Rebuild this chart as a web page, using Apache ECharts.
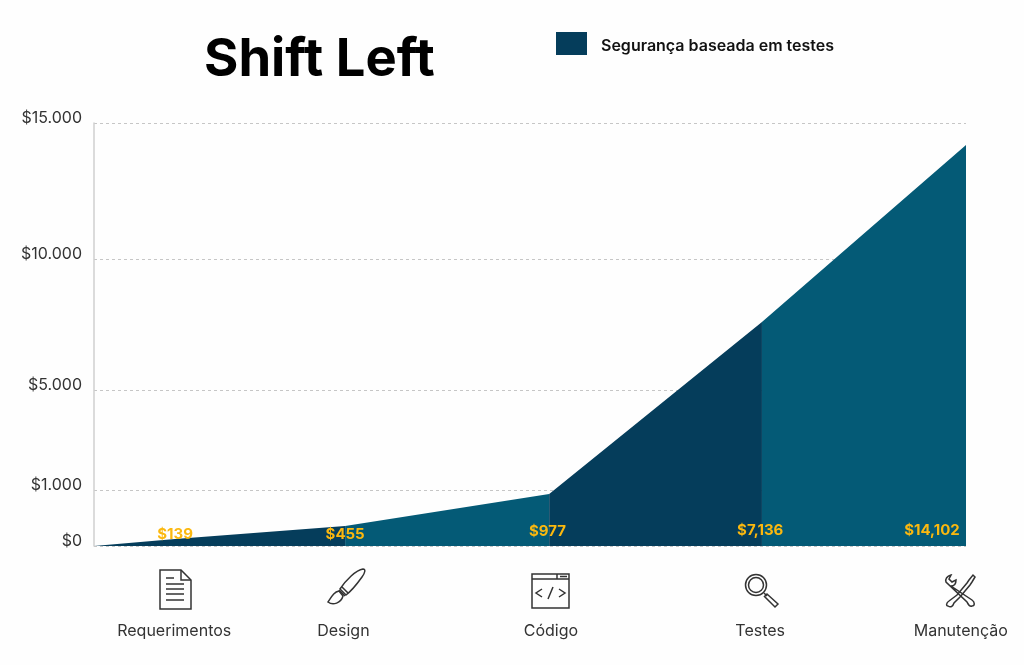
<!DOCTYPE html>
<html><head><meta charset="utf-8">
<style>html,body{margin:0;padding:0;background:#fefefe}#c{width:1024px;height:665px}</style>
<script src="https://cdn.jsdelivr.net/npm/echarts@6/dist/echarts.min.js"></script></head>
<body><div id="c"></div>
<script>
const titleText = "Shift Left";
const seriesName = "Segurança baseada em testes";
const categories = ["Requerimentos","Design","Código","Testes","Manutenção"];
const categoryX = [9.2,28.6,52.4,76.4,99.4];
const tickValues = [0,1000,5000,10000,15000];
const tickLabels = ["$0","$1.000","$5.000","$10.000","$15.000"];
const tickScale = [0,13.24,36.88,67.85,100];
const darkX = [0,9.3,28.8,null,52.2,76.6];
const darkValues = [0,125,357,null,928,7595];
const lightX = [28.8,52.2,null,76.6,100];
const lightValues = [357,928,null,7595,14190];
const costLabels = ["$139","$455","$977","$7,136","$14,102"];
const costLabelX = [9.3,28.8,52,76.4,96.1];
const costLabelLift = [-4,-4,-7,-8,-8];

function warp(v){
  for(let i=1;i<tickValues.length;i++){
    if(v<=tickValues[i]){
      const t=(v-tickValues[i-1])/(tickValues[i]-tickValues[i-1]);
      return tickScale[i-1]+t*(tickScale[i]-tickScale[i-1]);
    }
  }
  return 100;
}
const pts=(xs,vs)=>xs.map((x,i)=>x===null?['-','-']:[x,warp(vs[i])]);
const FONT="Inter";
const chart=echarts.init(document.getElementById('c'));
const ic={stroke:'#333',lineWidth:1.5,fill:'none'};
let shapeCount=0;
function p(d){
  const name='iconPath'+(shapeCount++);
  echarts.graphic.registerShape(name,echarts.graphic.extendPath(d,{}));
  return {type:name,style:Object.assign({},ic),silent:true};
}
chart.setOption({
  animation:false,
  backgroundColor:'#fefefe',
  textStyle:{fontFamily:FONT},
  title:{text:titleText,left:199,top:29,textStyle:{fontFamily:FONT,fontWeight:'bold',fontSize:52.5,color:'#000'}},
  legend:{data:[seriesName],left:551,top:27,itemWidth:31,itemHeight:23,icon:'rect',
    formatter:n=>'{a|'+n+'}',
    textStyle:{rich:{a:{fontFamily:FONT,fontWeight:600,fontSize:16,color:'#111',padding:[6,0,0,9]}}}},
  grid:{left:94,right:58,top:123,bottom:119},
  xAxis:{type:'value',min:0,max:100,
    axisLine:{show:false},axisTick:{show:false},splitLine:{show:false},
    axisLabel:{customValues:categoryX,margin:77,fontSize:16,color:'#333',fontFamily:FONT,
      formatter:v=>categories[categoryX.indexOf(v)]}},
  yAxis:{type:'value',min:0,max:100,
    axisLine:{show:true,onZero:false,lineStyle:{color:'#cfcfcf',width:1.5}},
    axisTick:{show:false,customValues:tickScale},
    splitLine:{show:true,lineStyle:{color:'#c6c6c6',type:[3,3],width:1}},
    axisLabel:{customValues:tickScale,margin:12,fontSize:16,color:'#333',fontFamily:FONT,
      verticalAlign:'bottom',lineHeight:10,
      formatter:v=>tickLabels[tickScale.indexOf(v)]}},
  series:[
    {name:seriesName,type:'line',data:pts(darkX,darkValues),symbol:'none',connectNulls:false,
      lineStyle:{width:0},areaStyle:{color:'#053d5b',opacity:1},itemStyle:{color:'#053d5b'},z:3},
    {name:'base',type:'line',data:pts(lightX,lightValues),symbol:'none',connectNulls:false,
      lineStyle:{width:0},areaStyle:{color:'#045a76',opacity:1},itemStyle:{color:'#045a76'},z:2},
    {name:'custos',type:'scatter',symbolSize:0,z:5,itemStyle:{opacity:1},
      data:costLabelX.map((x,i)=>({value:[x,0],label:{formatter:costLabels[i],offset:[0,costLabelLift[i]]}})),
      label:{show:true,position:'top',distance:0,opacity:1,fontFamily:FONT,fontWeight:'bold',fontSize:15,color:'#fbb80f'}}
  ],
  graphic:[
    {type:'group',x:159,y:569,silent:true,children:[
      p('M1 1H22L32 11V40H1Z'),p('M22 1V11H32'),
      p('M7 9H15M7 15H25M7 20H25M7 25H25M7 31H25')]},
    {type:'group',x:326,y:568,silent:true,children:[
      p('M14 21C20 12 30 2 37 1C40 1 39 5 36 9C31 16 24 24 20 27Z'),
      p('M13 22L19 28M16 19L22 25'),
      p('M13 23C8 24 6 28 2 34C7 38 15 35 17 28Z')]},
    {type:'group',x:532,y:574,silent:true,children:[
      {type:'rect',shape:{x:0,y:0,width:37,height:34},style:ic,silent:true},
      p('M0 5H37M25 0V5M28 2.5H35'),
      p('M10 15L4 19L10 23M27 15L33 19L27 23M21 13L16 25')]},
    {type:'group',x:745,y:574,silent:true,children:[
      {type:'circle',shape:{cx:11,cy:11,r:10.5},style:ic,silent:true},
      {type:'circle',shape:{cx:11,cy:11,r:7.5},style:ic,silent:true},
      p('M19 19L22 22M22 20L33 30L30 33L19.5 22.5Z')]},
    {type:'group',x:944,y:574,silent:true,children:[
      p('M2 8C1 5 3 2 7 1L5 5L8 8L12 6C12 10 10 12 7 12L28 26C31 28 31 32 28 32C25 33 24 30 23 28Z'),
      p('M31 3L29 1L25 6L23 9L13 21L5 27C2 29 2 32 4 32C7 34 9 32 10 29L16 23L26 11L28 8Z')]}
  ]
});
</script></body></html>
